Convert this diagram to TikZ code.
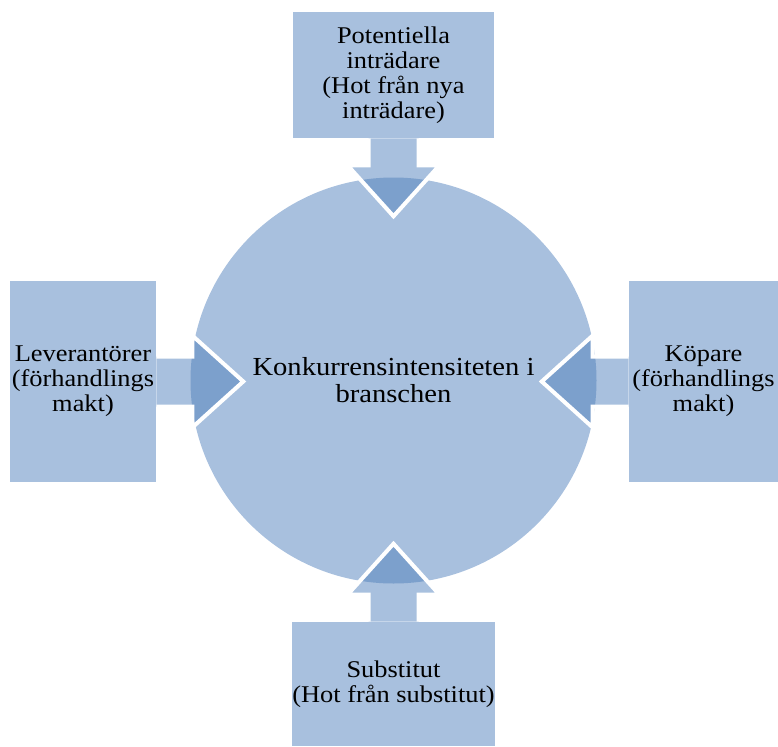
\documentclass[tikz,border=0pt]{standalone}
\usepackage{fontspec}
\setmainfont[FakeStretch=1.1]{Liberation Serif}
\usepackage{tikz}
\usetikzlibrary{calc}
\definecolor{forceblue}{HTML}{A8C0DE}
\definecolor{forcedark}{HTML}{7CA0CC}

% block arrow: start point, direction, stem length (px)
\newcommand{\forcearrow}[3]{%
  \begin{scope}[shift={(#1)}, rotate=#2]
    \fill[forceblue] (0,-25) -- (#3,-25) -- (#3,-46) -- ++(51,46) -- (#3,46) -- (#3,25) -- (0,25) -- cycle;
    \begin{scope}
      \clip (hub.center) circle[radius=203];
      \fill[forcedark] (0,-25) -- (#3,-25) -- (#3,-46) -- ++(51,46) -- (#3,46) -- (#3,25) -- (0,25) -- cycle;
    \end{scope}
    \draw[outline] (0,-25) -- (#3,-25) -- (#3,-46) -- ++(51,46) -- (#3,46) -- (#3,25) -- (0,25);
  \end{scope}}

\begin{document}
\begin{tikzpicture}[
  x=0.75pt, y=-0.75pt,
  every node/.style={font=\fontsize{18}{18.75}\selectfont},
  forcebox/.style={fill=forceblue, inner sep=0pt, align=center},
  hubstyle/.style={circle, fill=forceblue, minimum size=304.5pt, inner sep=0pt,
                   align=center, font=\fontsize{19.5}{20.25}\selectfont},
  outline/.style={white, line width=3pt, line join=miter},
]
\useasboundingbox (0,0) rectangle (778,746);

\node[hubstyle] (hub) at (393.5,380.5) {Konkurrensintensiteten i\\branschen};

\node[forcebox, minimum width=150.75pt, minimum height=94.5pt] (entrants) at (393.5,75)
  {Potentiella\\inträdare\\(Hot från nya\\inträdare)};
\node[forcebox, minimum width=109.5pt, minimum height=150.75pt] (suppliers) at (83,381.5)
  {Leverantörer\\(förhandlings\\makt)};
\node[forcebox, minimum width=111.75pt, minimum height=150.75pt] (buyers) at (703.5,381.5)
  {Köpare\\(förhandlings\\makt)};
\node[forcebox, minimum width=150.75pt, minimum height=93pt] (substitutes) at (393.5,684)
  {Substitut\\(Hot från substitut)};

\forcearrow{entrants.south}{-90}{27}
\forcearrow{suppliers.east}{0}{36}
\forcearrow{buyers.west}{180}{36}
\forcearrow{substitutes.north}{90}{27}

\end{tikzpicture}
\end{document}
